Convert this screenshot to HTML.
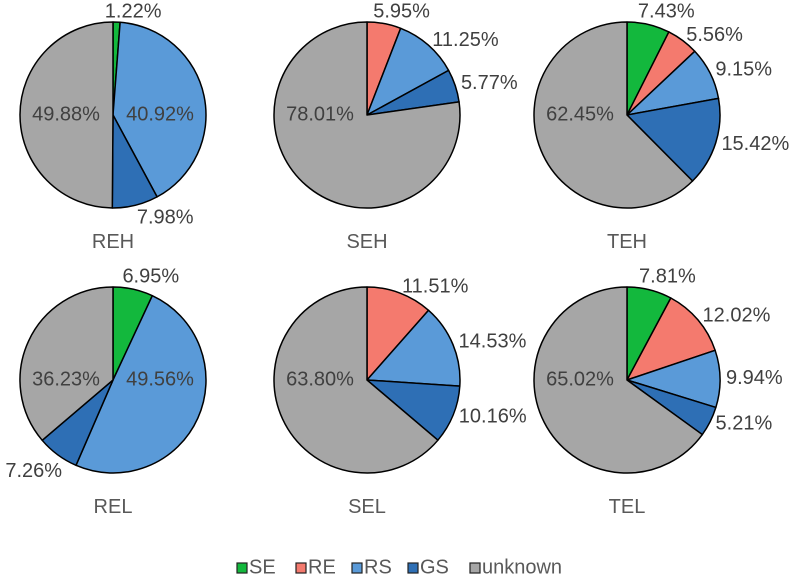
<!DOCTYPE html>
<html><head><meta charset="utf-8">
<style>
html,body{margin:0;padding:0;background:#fff;}
svg{display:block;font-family:"Liberation Sans",Arial,sans-serif;}
</style></head>
<body>
<svg id="chart" width="790" height="577" viewBox="0 0 790 577"></svg>
<script>
const categories = ["SE","RE","RS","GS","unknown"];
const panelNames = ["REH","SEH","TEH","REL","SEL","TEL"];
const valsREH = [1.22, 0, 40.92, 7.98, 49.88];
const valsSEH = [0, 5.95, 11.25, 5.77, 78.01];
const valsTEH = [7.43, 5.56, 9.15, 15.42, 62.45];
const valsREL = [6.95, 0, 49.56, 7.26, 36.23];
const valsSEL = [0, 11.51, 14.53, 10.16, 63.80];
const valsTEL = [7.81, 12.02, 9.94, 5.21, 65.02];
const allVals = [valsREH, valsSEH, valsTEH, valsREL, valsSEL, valsTEL];

const colors = ["#13b83d","#f47a6e","#5a9ad8","#2e6fb5","#a6a6a6"];
const centers = [[113,115],[367,115],[627,115],[113,380],[367,380],[627,380]];
const R = 93;
const NS = "http://www.w3.org/2000/svg";
const svg = document.getElementById("chart");

function mk(tag, attrs){ const e=document.createElementNS(NS,tag); for(const k in attrs) e.setAttribute(k,attrs[k]); return e; }
function pt(cx,cy,r,frac){ const a=frac*2*Math.PI; return [cx+r*Math.sin(a), cy-r*Math.cos(a)]; }

allVals.forEach((vals,pi)=>{
  const [cx,cy]=centers[pi];
  const total = vals.reduce((a,b)=>a+b,0);
  const g = mk("g",{});
  
  
  svg.appendChild(g);
  let acc=0;
  vals.forEach((v,i)=>{
    if(v<=0) return;
    const f0=acc/total, f1=(acc+v)/total; acc+=v;
    const p0=pt(cx,cy,R,f0), p1=pt(cx,cy,R,f1);
    const large=(f1-f0)>0.5?1:0;
    const path=mk("path",{d:`M${cx},${cy} L${p0[0]},${p0[1]} A${R},${R} 0 ${large} 1 ${p1[0]},${p1[1]} Z`,fill:colors[i],stroke:"#000","stroke-width":1.5,"stroke-linejoin":"round"});
    
    
    g.appendChild(path);
    const mid=(f0+f1)/2;
    const s=Math.sin(mid*2*Math.PI), c=Math.cos(mid*2*Math.PI);
    let lx,ly,anchor;
    if(v>30){
      lx = cx + (s>=0?47:-47); ly=cy; anchor="middle";
    } else {
      const p=pt(cx,cy,R+6,mid); lx=p[0]; ly=p[1];
      anchor = s>=0?"start":"end";
      if(Math.abs(s)<0.3 && c>0){ lx=p[0]-12; ly=cy-R-10; anchor="start"; }
      else if(Math.abs(s)<0.3 && c<0){ ly=p[1]+7; }
      else if(s<0 && c<0){ lx=p[0]+8; ly=p[1]+12; }
    }
    const t=mk("text",{x:lx,y:ly,"text-anchor":anchor,"dominant-baseline":"middle","font-size":20,fill:"#404040"});
    t.textContent=v.toFixed(2)+"%";
    
    
    svg.appendChild(t);
  });
  const title=mk("text",{x:cx,y:cy+133,"text-anchor":"middle","font-size":20,fill:"#595959"});
  title.textContent=panelNames[pi];
  
  
  svg.appendChild(title);
});

const legendX=[237,296,352,408,470];
const lg=mk("g",{});


svg.appendChild(lg);
categories.forEach((c,i)=>{
  const r=mk("rect",{x:legendX[i],y:563,width:10,height:10,fill:colors[i],stroke:"#222","stroke-width":1.2});
  
  
  lg.appendChild(r);
  const t=mk("text",{x:legendX[i]+12,y:568,"dominant-baseline":"middle","font-size":20,fill:"#595959"});
  t.textContent=c;
  
  
  lg.appendChild(t);
});
</script>
</body></html>
